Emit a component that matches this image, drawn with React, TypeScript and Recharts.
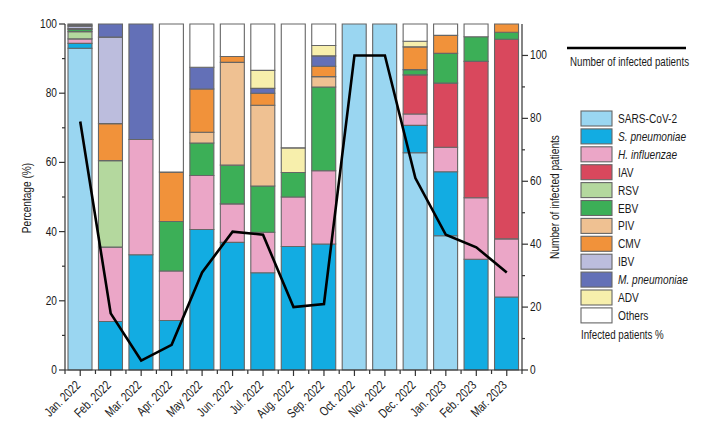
import React from 'react';
import { ComposedChart, Bar, Line, XAxis, YAxis } from 'recharts';

const months = [
  'Jan. 2022', 'Feb. 2022', 'Mar. 2022', 'Apr. 2022', 'May 2022', 'Jun. 2022', 'Jul. 2022', 'Aug. 2022',
  'Sep. 2022', 'Oct. 2022', 'Nov. 2022', 'Dec. 2022', 'Jan. 2023', 'Feb. 2023', 'Mar. 2023',
];

const sars = [93, 0, 0, 0, 0, 0, 0, 0, 0, 100, 100, 62.8, 38.8, 0, 0];
const spn = [1.4, 14, 33.3, 14.3, 40.6, 36.9, 28.1, 35.7, 36.4, 0, 0, 7.9, 18.5, 32, 21.1];
const hinf = [1.3, 21.5, 33.3, 14.3, 15.6, 11.1, 11.7, 14.3, 21.2, 0, 0, 3.3, 7.1, 17.8, 16.8];
const iav = [0, 0, 0, 0, 0, 0, 0, 0, 0, 0, 0, 11.3, 18.5, 39.4, 57.7];
const rsv = [2.1, 25, 0, 0, 0, 0, 0, 0, 0, 0, 0, 0, 0, 0, 0];
const ebv = [0.6, 0, 0, 14.3, 9.4, 11.2, 13.4, 7.1, 24.2, 0, 0, 1.5, 8.6, 7.1, 2.0];
const piv = [0.3, 0, 0, 0, 3.1, 29.7, 23.3, 0, 3.0, 0, 0, 0, 0, 0, 0];
const cmv = [0, 10.7, 0, 14.3, 12.5, 1.7, 3.5, 0, 3.0, 0, 0, 6.6, 5.2, 0, 2.4];
const ibv = [0.7, 25, 0, 0, 0, 0, 0, 0, 0, 0, 0, 0, 0, 0, 0];
const mpn = [0.3, 3.8, 33.4, 0, 6.3, 0, 1.4, 0, 3.0, 0, 0, 0, 0, 0, 0];
const adv = [0, 0, 0, 0, 0, 0, 5.2, 7.1, 3.0, 0, 0, 1.6, 0, 0, 0];
const others = [0.3, 0, 0, 42.8, 12.5, 9.4, 13.4, 35.8, 6.2, 0, 0, 5.0, 3.3, 3.7, 0];
const patients = [79, 18, 3, 8, 31, 44, 43, 20, 21, 100, 100, 61, 43, 39, 31];

const leftTicks = [0, 10, 20, 30, 40, 50, 60, 70, 80, 90, 100];
const rightTicks = [0, 10, 20, 30, 40, 50, 60, 70, 80, 90, 100];

const series = [
  { key: 'sars', name: 'SARS-CoV-2', color: '#9ad6f1', values: sars },
  { key: 'spn', name: 'S. pneumoniae', color: '#12ace2', values: spn, italic: true },
  { key: 'hinf', name: 'H. influenzae', color: '#eba6c7', values: hinf, italic: true },
  { key: 'iav', name: 'IAV', color: '#d9485d', values: iav },
  { key: 'rsv', name: 'RSV', color: '#b4d89e', values: rsv },
  { key: 'ebv', name: 'EBV', color: '#3caf57', values: ebv },
  { key: 'piv', name: 'PIV', color: '#efc192', values: piv },
  { key: 'cmv', name: 'CMV', color: '#f1923a', values: cmv },
  { key: 'ibv', name: 'IBV', color: '#bcbddd', values: ibv },
  { key: 'mpn', name: 'M. pneumoniae', color: '#6370b7', values: mpn, italic: true },
  { key: 'adv', name: 'ADV', color: '#f7efac', values: adv },
  { key: 'others', name: 'Others', color: '#ffffff', values: others },
];

const data = months.map((month, i) => {
  const row: Record<string, number | string> = { month, patients: patients[i] };
  series.forEach((s) => {
    row[s.key] = s.values[i];
  });
  return row;
});

const FONT = "'Liberation Sans', Arial, sans-serif";
const AXIS = '#333';
const HALF_BAND = 15.23;

// condensed-looking text: squeeze glyphs horizontally
const CText = ({ x, y, rotate = 0, size = 12, anchor = 'start', italic = false, children }: any) => (
  <text
    transform={`translate(${x} ${y}) rotate(${rotate}) scale(0.78 1)`}
    textAnchor={anchor}
    fontSize={size}
    fontFamily={FONT}
    fontStyle={italic ? 'italic' : 'normal'}
    fill="#1a1a1a"
  >
    {children}
  </text>
);

const LeftTick = ({ x, y, payload }: any) => {
  const major = payload.value % 20 === 0;
  return (
    <g>
      <line x1={x} x2={x - (major ? 6 : 3)} y1={y} y2={y} stroke={AXIS} strokeWidth={1.2} />
      {major && (
        <CText x={x - 8} y={y + 4} anchor="end" size={13}>
          {payload.value}
        </CText>
      )}
    </g>
  );
};

const RightTick = ({ x, y, payload }: any) => {
  const major = payload.value % 20 === 0;
  return (
    <g>
      <line x1={x} x2={x + (major ? 6 : 3)} y1={y} y2={y} stroke={AXIS} strokeWidth={1.2} />
      {major && (
        <CText x={x + 8} y={y + 4} size={13}>
          {payload.value}
        </CText>
      )}
    </g>
  );
};

const MonthTick = ({ x, y, payload, index }: any) => (
  <g>
    <line x1={x} x2={x} y1={y} y2={y + 6} stroke={AXIS} strokeWidth={1.2} />
    <line x1={x - HALF_BAND} x2={x - HALF_BAND} y1={y} y2={y + 4} stroke={AXIS} strokeWidth={1.2} />
    {index === months.length - 1 && (
      <line x1={x + HALF_BAND} x2={x + HALF_BAND} y1={y} y2={y + 4} stroke={AXIS} strokeWidth={1.2} />
    )}
    <CText x={x + 1} y={y + 16} anchor="end" rotate={-45} size={13}>
      {payload.value}
    </CText>
  </g>
);

export default function App() {
  return (
    <div style={{ position: 'absolute', left: 0, top: 0, width: 720, height: 432, background: '#fff' }}>
      <ComposedChart
        width={720}
        height={432}
        data={data}
        margin={{ top: 24, right: 158, bottom: 0, left: 0 }}
      >
        <XAxis
          dataKey="month"
          interval={0}
          height={62}
          tickSize={0}
          tickMargin={0}
          tickLine={false}
          tick={<MonthTick />}
          axisLine={{ stroke: AXIS, strokeWidth: 1.2 }}
        />
        <YAxis
          yAxisId="left"
          domain={[0, 100]}
          ticks={leftTicks}
          width={65}
          tickSize={0}
          tickMargin={0}
          tickLine={false}
          tick={<LeftTick />}
          axisLine={{ stroke: AXIS, strokeWidth: 1.2 }}
          interval={0}
        />
        <YAxis
          yAxisId="right"
          orientation="right"
          domain={[0, 110]}
          ticks={rightTicks}
          width={40}
          tickSize={0}
          tickMargin={0}
          tickLine={false}
          tick={<RightTick />}
          axisLine={{ stroke: AXIS, strokeWidth: 1.2 }}
          interval={0}
        />
        {series.map((s) => (
          <Bar
            key={s.key}
            dataKey={s.key}
            name={s.name}
            stackId="a"
            yAxisId="left"
            barSize={24}
            fill={s.color}
            stroke="#666"
            strokeWidth={1.1}
            isAnimationActive={false}
          />
        ))}
        <Line
          dataKey="patients"
          yAxisId="right"
          type="linear"
          stroke="#000"
          strokeWidth={2.6}
          dot={false}
          activeDot={false}
          isAnimationActive={false}
        />
      </ComposedChart>
      <svg
        width={720}
        height={432}
        style={{ position: 'absolute', left: 0, top: 0, pointerEvents: 'none' }}
      >
        <CText x={31} y={198} anchor="middle" rotate={-90} size={13}>
          Percentage (%)
        </CText>
        <CText x={559} y={197} anchor="middle" rotate={-90} size={13}>
          Number of infected patients
        </CText>
        <line x1={567} x2={686} y1={48} y2={48} stroke="#000" strokeWidth={2.6} />
        <CText x={570} y={66} size={12.5}>
          Number of infected patients
        </CText>
        {series.map((s, i) => (
          <g key={s.key}>
            <rect x={581} y={111 + i * 17.9} width={31} height={15} fill={s.color} stroke="#666" strokeWidth={1.1} />
            <CText x={618} y={123 + i * 17.9} size={13} italic={s.italic}>
              {s.name}
            </CText>
          </g>
        ))}
        <CText x={581} y={339} size={12.5}>
          Infected patients %
        </CText>
      </svg>
    </div>
  );
}
